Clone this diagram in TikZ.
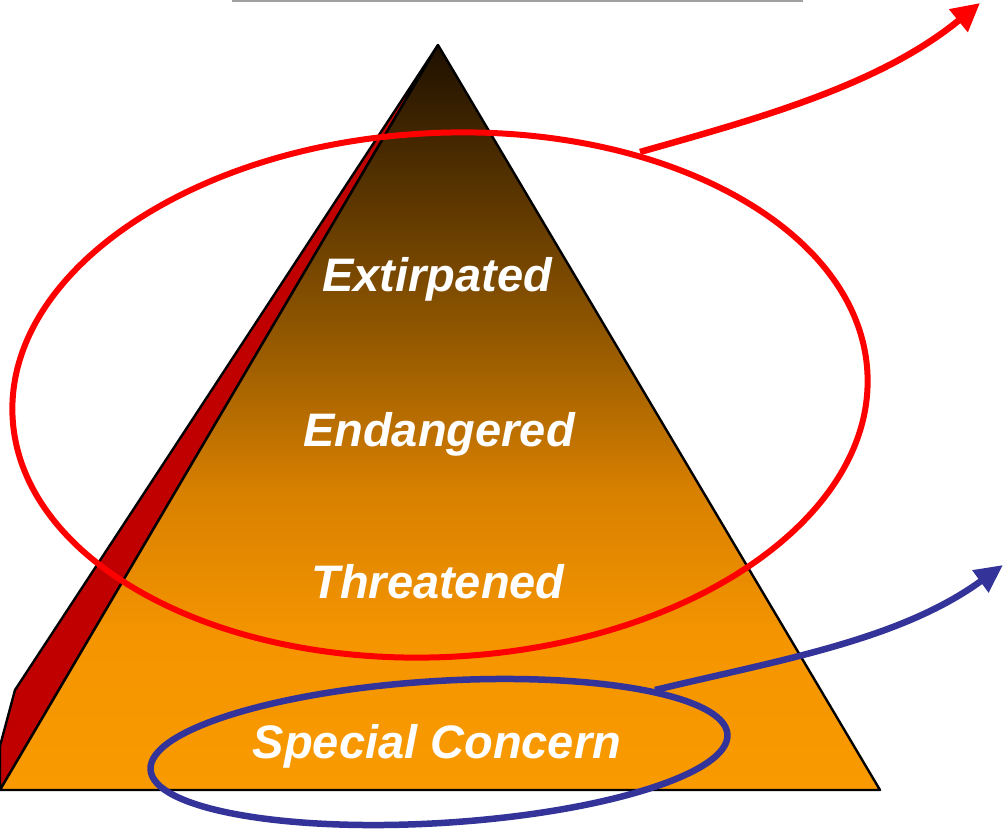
\documentclass[tikz,border=0pt]{standalone}
\usepackage{fontspec}
\setmainfont{Liberation Sans}
\usepackage{xcolor}
\usetikzlibrary{arrows.meta}
\definecolor{rim}{HTML}{C00000}
\definecolor{ring}{HTML}{FF0000}
\definecolor{loop}{HTML}{333399}
\definecolor{rule}{HTML}{A0A0A0}
\definecolor{top}{HTML}{1E1000}
\definecolor{upper}{HTML}{8C5400}
\definecolor{mid}{HTML}{D88000}
\definecolor{low}{HTML}{F59500}
\definecolor{base}{HTML}{F99A00}
\pgfdeclareverticalshading{pyr}{100bp}{
  color(0bp)=(base); color(25bp)=(base); color(35bp)=(low);
  color(45bp)=(mid); color(56.5bp)=(upper); color(75bp)=(top); color(100bp)=(top)}
\tikzset{
  edge/.style={draw=black, line width=2.4pt, line join=round},
  tier/.style={text=white, font=\fontsize{47}{50}\selectfont\bfseries\itshape, anchor=base, inner sep=0pt},
  redring/.style={draw=ring, line width=6pt},
  bluering/.style={draw=loop, line width=6.5pt},
  redarr/.style={draw=ring, line width=6.5pt, -{Triangle[length=28pt,width=28pt]}},
  bluearr/.style={draw=loop, line width=6.5pt, -{Triangle[length=28pt,width=26pt]}},
}

\begin{document}
\begin{tikzpicture}[x=1pt,y=-1pt]
  \useasboundingbox (0,0) rectangle (1005,833);
  \coordinate (L) at (0,790);
  \coordinate (R) at (880,790);
  \coordinate (T) at (438,45);

  \draw[rule, line width=2pt] (232,1) -- (803,1);

  % side face
  \filldraw[edge, fill=rim] (L) -- (0,746) -- (15,690) -- (T) -- cycle;
  % front face
  \shade[shading=pyr] (L) -- (R) -- (T) -- cycle;
  \draw[edge] (L) -- (R) -- (T) -- cycle;

  \node[tier] (ext) at (437,291) {Extirpated};
  \node[tier] (end) at (439,446) {Endangered};
  \node[tier] (thr) at (438,598) {Threatened};
  \node[tier] (spc) at (437,758) {Special Concern};

  % rings
  \draw[redring] (440,395) ellipse[x radius=428, y radius=262, rotate=3];
  \draw[bluering] (439,752) ellipse[x radius=289, y radius=71, rotate=3.5];

  \coordinate (ra) at (640,152);
  \coordinate (rb) at (980,3);
  \coordinate (ba) at (655,690);
  \coordinate (bb) at (1003,565);
  \draw[redarr] (ra) .. controls (760,118) and (880,85) .. (rb);
  \draw[bluearr] (ba) .. controls (780,660) and (900,640) .. (bb);
\end{tikzpicture}
\end{document}
